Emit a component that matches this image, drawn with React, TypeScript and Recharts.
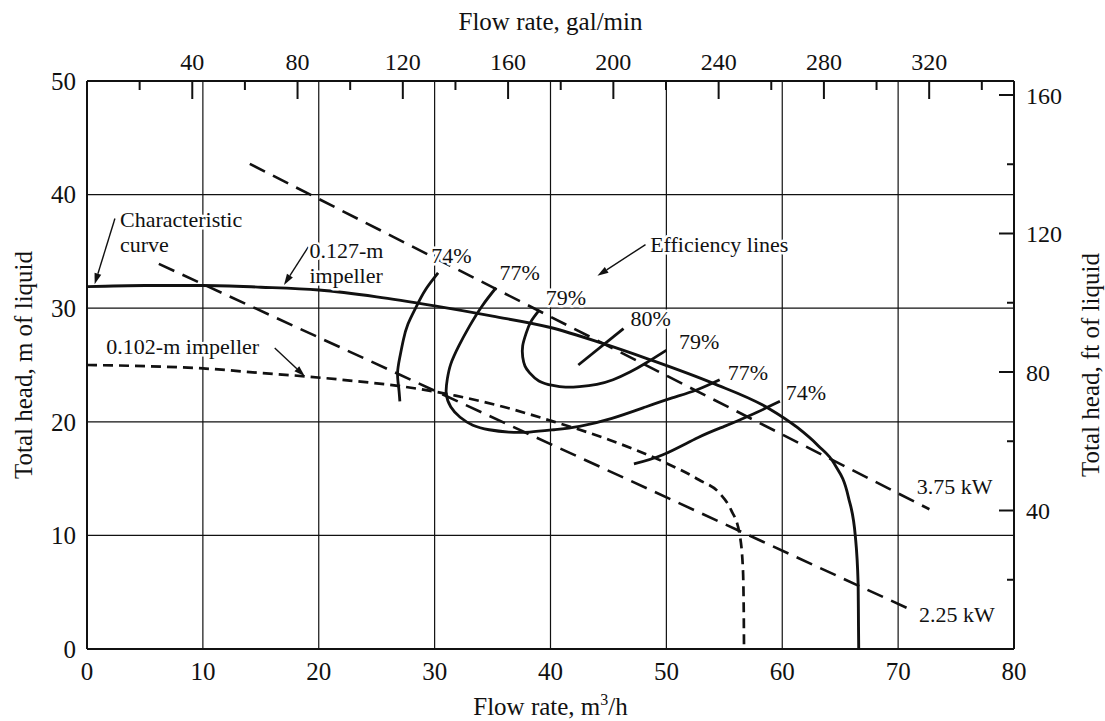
import React from "react";
import {
  LineChart,
  Line,
  XAxis,
  YAxis,
  CartesianGrid,
  ReferenceDot,
  ReferenceLine,
} from "recharts";

const FONT = '"Liberation Serif", "Times New Roman", Times, serif';
const INK = "#111";

const GAL_PER_M3H = 4.40287;
const FT_PER_M = 3.28084;

// axis ticks
const flowTicks = [0, 10, 20, 30, 40, 50, 60, 70, 80];
const headTicks = [0, 10, 20, 30, 40, 50];
const galTicks = [20, 40, 60, 80, 100, 120, 140, 160, 180, 200, 220, 240, 260, 280, 300, 320, 340];
const galLabels = [40, 80, 120, 160, 200, 240, 280, 320];
const ftTicks = [20, 40, 60, 80, 100, 120, 140, 160];
const ftLabels = [40, 80, 120, 160];

// head curves, x = m3/h, y = m of liquid
const impeller127 = [
  { x: 0, y: 31.9 }, { x: 5, y: 32.0 }, { x: 10, y: 32.0 }, { x: 15, y: 31.85 },
  { x: 20, y: 31.6 }, { x: 25, y: 31.0 }, { x: 30, y: 30.2 }, { x: 35, y: 29.3 },
  { x: 40, y: 28.3 }, { x: 44.5, y: 26.9 }, { x: 48.5, y: 25.5 }, { x: 54, y: 23.4 },
  { x: 58.8, y: 21.2 }, { x: 61.3, y: 19.5 }, { x: 63.1, y: 17.9 }, { x: 64.5, y: 16.3 },
  { x: 65.7, y: 13.4 }, { x: 66.3, y: 10 }, { x: 66.55, y: 5.7 }, { x: 66.58, y: 2 },
  { x: 66.6, y: 0 },
];

const impeller102 = [
  { x: 0, y: 25.0 }, { x: 5, y: 24.9 }, { x: 10, y: 24.7 }, { x: 15, y: 24.3 },
  { x: 18.8, y: 24.0 }, { x: 23, y: 23.6 }, { x: 27.3, y: 23.1 }, { x: 31.8, y: 22.3 },
  { x: 36, y: 21.3 }, { x: 40, y: 20.1 }, { x: 45.1, y: 18.4 }, { x: 49.7, y: 16.5 },
  { x: 52.8, y: 14.9 }, { x: 54.6, y: 13.7 }, { x: 55.6, y: 12.2 }, { x: 56.3, y: 10.2 },
  { x: 56.6, y: 7.2 }, { x: 56.68, y: 3 }, { x: 56.7, y: 0 },
];

// power lines
const power375 = [{ x: 14.05, y: 42.7 }, { x: 72.7, y: 12.3 }];
const power225 = [{ x: 6.2, y: 33.9 }, { x: 71.0, y: 3.5 }];

// efficiency lines
const eff74Left = [
  { x: 30.3, y: 33.1 }, { x: 29.2, y: 31.6 }, { x: 28.4, y: 30.1 }, { x: 27.7, y: 28.6 },
  { x: 27.3, y: 27.2 }, { x: 27.0, y: 25.7 }, { x: 26.8, y: 24.3 }, { x: 26.9, y: 23.0 },
  { x: 27.0, y: 21.8 },
];
const eff77 = [
  { x: 35.3, y: 31.8 }, { x: 34.1, y: 30.2 }, { x: 33.0, y: 28.4 }, { x: 32.1, y: 26.7 },
  { x: 31.4, y: 25.1 }, { x: 31.1, y: 23.8 }, { x: 31.0, y: 22.5 }, { x: 31.4, y: 21.3 },
  { x: 32.2, y: 20.4 }, { x: 33.3, y: 19.7 }, { x: 34.7, y: 19.3 }, { x: 36.4, y: 19.1 },
  { x: 38.2, y: 19.1 }, { x: 40.3, y: 19.3 }, { x: 42.5, y: 19.6 }, { x: 45.3, y: 20.3 },
  { x: 48.2, y: 21.3 }, { x: 50.5, y: 22.1 }, { x: 52.6, y: 22.8 }, { x: 54.6, y: 23.7 },
];
const eff79 = [
  { x: 39.05, y: 29.85 }, { x: 38.3, y: 28.8 }, { x: 37.9, y: 27.8 }, { x: 37.6, y: 26.7 },
  { x: 37.6, y: 25.7 }, { x: 37.8, y: 24.9 }, { x: 38.2, y: 24.3 }, { x: 39.0, y: 23.6 },
  { x: 40.2, y: 23.2 }, { x: 41.3, y: 23.05 }, { x: 42.5, y: 23.1 }, { x: 44.0, y: 23.3 },
  { x: 45.4, y: 23.7 }, { x: 46.9, y: 24.4 }, { x: 48.2, y: 25.15 }, { x: 50.0, y: 26.3 },
];
const eff80 = [{ x: 42.4, y: 25.0 }, { x: 46.3, y: 28.2 }];
const eff74Right = [
  { x: 47.2, y: 16.3 }, { x: 49.7, y: 17.1 }, { x: 52.7, y: 18.6 }, { x: 55.0, y: 19.6 },
  { x: 57.3, y: 20.6 }, { x: 59.8, y: 21.8 },
];

// text placed in chart units (left edge, middle)
const notes = [
  { text: "Characteristic", x: 2.85, y: 37.8 },
  { text: "curve", x: 2.85, y: 35.6 },
  { text: "0.127-m", x: 19.2, y: 35.1 },
  { text: "impeller", x: 19.2, y: 32.9 },
  { text: "0.102-m impeller", x: 1.67, y: 26.6 },
  { text: "Efficiency lines", x: 48.6, y: 35.6 },
  { text: "74%", x: 29.7, y: 34.6 },
  { text: "77%", x: 35.6, y: 33.1 },
  { text: "79%", x: 39.6, y: 30.9 },
  { text: "80%", x: 46.9, y: 29.1 },
  { text: "79%", x: 51.1, y: 27.1 },
  { text: "77%", x: 55.3, y: 24.3 },
  { text: "74%", x: 60.3, y: 22.6 },
  { text: "3.75 kW", x: 71.6, y: 14.3 },
  { text: "2.25 kW", x: 71.8, y: 3.0 },
];

const arrows = [
  [{ x: 2.41, y: 37.9 }, { x: 0.66, y: 32.1 }],
  [{ x: 19.1, y: 35.4 }, { x: 17.0, y: 32.05 }],
  [{ x: 16.2, y: 26.5 }, { x: 18.8, y: 24.0 }],
  [{ x: 48.2, y: 35.6 }, { x: 44.05, y: 32.85 }],
];

// tick drawn at the axis line (tickSize 0, tickMargin 0)
function GalTick({ x, y, payload }: any) {
  const major = galLabels.includes(payload.value);
  return (
    <g>
      <line x1={x} x2={x} y1={y} y2={y + (major ? 18 : 9)} stroke={INK} strokeWidth={2} />
      {major && (
        <text x={x} y={y - 19} textAnchor="middle" dominantBaseline="central"
          fontSize={24} fontFamily={FONT} fill={INK}>
          {payload.value}
        </text>
      )}
    </g>
  );
}

function FtTick({ x, y, payload }: any) {
  const major = ftLabels.includes(payload.value);
  return (
    <g>
      <line x1={x} x2={x - (major ? 15 : 7)} y1={y} y2={y} stroke={INK} strokeWidth={2} />
      {major && (
        <text x={x + 12} y={y + 1} textAnchor="start" dominantBaseline="central"
          fontSize={24} fontFamily={FONT} fill={INK}>
          {payload.value}
        </text>
      )}
    </g>
  );
}

function Arrow(p: any) {
  const { x1, y1, x2, y2 } = p;
  const a = Math.atan2(y2 - y1, x2 - x1);
  const len = 11;
  const w = 3.5;
  const bx = x2 - len * Math.cos(a);
  const by = y2 - len * Math.sin(a);
  const pts = `${x2},${y2} ${bx + w * Math.sin(a)},${by - w * Math.cos(a)} ${bx - w * Math.sin(a)},${by + w * Math.cos(a)}`;
  return (
    <g>
      <line x1={x1} y1={y1} x2={bx} y2={by} stroke={INK} strokeWidth={1.4} />
      <polygon points={pts} fill={INK} />
    </g>
  );
}

const lineProps = {
  dataKey: "y",
  stroke: INK,
  dot: false,
  activeDot: false,
  isAnimationActive: false,
  legendType: "none" as const,
};

const titleStyle = { fontSize: 25, fontFamily: FONT, fill: INK };

export default function App() {
  return (
    <div style={{ width: 1105, height: 721, background: "#fff" }}>
      <style>{"body{margin:0}"}</style>
      <LineChart
        width={1105}
        height={721}
        margin={{ top: 51, right: 61, bottom: 42, left: 57 }}
        style={{ fontFamily: FONT }}
      >
        <CartesianGrid stroke={INK} strokeWidth={1.2} />
        <XAxis
          type="number"
          dataKey="x"
          domain={[0, 80]}
          ticks={flowTicks}
          interval={0}
          height={30}
          allowDataOverflow
          tickLine={false}
          tickSize={0}
          tickMargin={13}
          axisLine={{ stroke: INK, strokeWidth: 2 }}
          tick={{ fill: INK, fontSize: 25, fontFamily: FONT }}
          label={{
            content: ({ viewBox }: any) => (
              <text x={viewBox.x + viewBox.width / 2} y={715} textAnchor="middle" {...titleStyle}>
                <tspan>Flow rate, m</tspan>
                <tspan dy={-10} fontSize={16}>3</tspan>
                <tspan dy={10}>/h</tspan>
              </text>
            ),
          }}
        />
        <XAxis
          xAxisId="gal"
          orientation="top"
          type="number"
          dataKey="x"
          domain={[0, 80 * GAL_PER_M3H]}
          ticks={galTicks}
          interval={0}
          height={30}
          allowDataOverflow
          tickLine={false}
          tickSize={0}
          tickMargin={0}
          axisLine={{ stroke: INK, strokeWidth: 2 }}
          tick={(p: any) => <GalTick {...p} />}
          label={{
            content: ({ viewBox }: any) => (
              <text x={viewBox.x + viewBox.width / 2} y={30} textAnchor="middle" {...titleStyle}>
                Flow rate, gal/min
              </text>
            ),
          }}
        />
        <YAxis
          type="number"
          domain={[0, 50]}
          ticks={headTicks}
          interval={0}
          width={30}
          allowDataOverflow
          tickLine={false}
          tickSize={0}
          tickMargin={11}
          axisLine={{ stroke: INK, strokeWidth: 2 }}
          tick={{ fill: INK, fontSize: 25, fontFamily: FONT }}
          label={{
            content: ({ viewBox }: any) => {
              const cy = viewBox.y + viewBox.height / 2;
              return (
                <text x={23} y={cy} transform={`rotate(-90, 23, ${cy})`} textAnchor="middle"
                  dominantBaseline="central" {...titleStyle}>
                  Total head, m of liquid
                </text>
              );
            },
          }}
        />
        <YAxis
          yAxisId="ft"
          orientation="right"
          type="number"
          domain={[0, 50 * FT_PER_M]}
          ticks={ftTicks}
          interval={0}
          width={30}
          allowDataOverflow
          tickLine={false}
          tickSize={0}
          tickMargin={0}
          axisLine={{ stroke: INK, strokeWidth: 2 }}
          tick={(p: any) => <FtTick {...p} />}
          label={{
            content: ({ viewBox }: any) => {
              const cy = viewBox.y + viewBox.height / 2;
              return (
                <text x={1090} y={cy} transform={`rotate(-90, 1090, ${cy})`} textAnchor="middle"
                  dominantBaseline="central" {...titleStyle}>
                  Total head, ft of liquid
                </text>
              );
            },
          }}
        />

        <Line {...lineProps} data={power375} type="linear" strokeWidth={2.6} strokeDasharray="17 9" />
        <Line {...lineProps} data={power225} type="linear" strokeWidth={2.6} strokeDasharray="17 9" />
        <Line {...lineProps} data={impeller102} type="monotone" strokeWidth={2.7} strokeDasharray="10 6" />
        <Line {...lineProps} data={impeller127} type="monotone" strokeWidth={2.9} />
        <Line {...lineProps} data={eff74Left} type="natural" strokeWidth={2.8} />
        <Line {...lineProps} data={eff77} type="natural" strokeWidth={2.8} />
        <Line {...lineProps} data={eff79} type="natural" strokeWidth={2.8} />
        <Line {...lineProps} data={eff80} type="linear" strokeWidth={2.8} />
        <Line {...lineProps} data={eff74Right} type="natural" strokeWidth={2.8} />

        {arrows.map((seg, i) => (
          <ReferenceLine key={`a${i}`} segment={seg} shape={(p: any) => <Arrow {...p} />} />
        ))}
        {notes.map((n, i) => (
          <ReferenceDot
            key={`n${i}`}
            x={n.x}
            y={n.y}
            r={1}
            isFront
            shape={(p: any) => (
              <text x={p.cx} y={p.cy} textAnchor="start" dominantBaseline="central"
                fontSize={22} fontFamily={FONT} fill={INK}
                stroke="#fff" strokeWidth={5} strokeLinejoin="round" paintOrder="stroke">
                {n.text}
              </text>
            )}
          />
        ))}
      </LineChart>
    </div>
  );
}
